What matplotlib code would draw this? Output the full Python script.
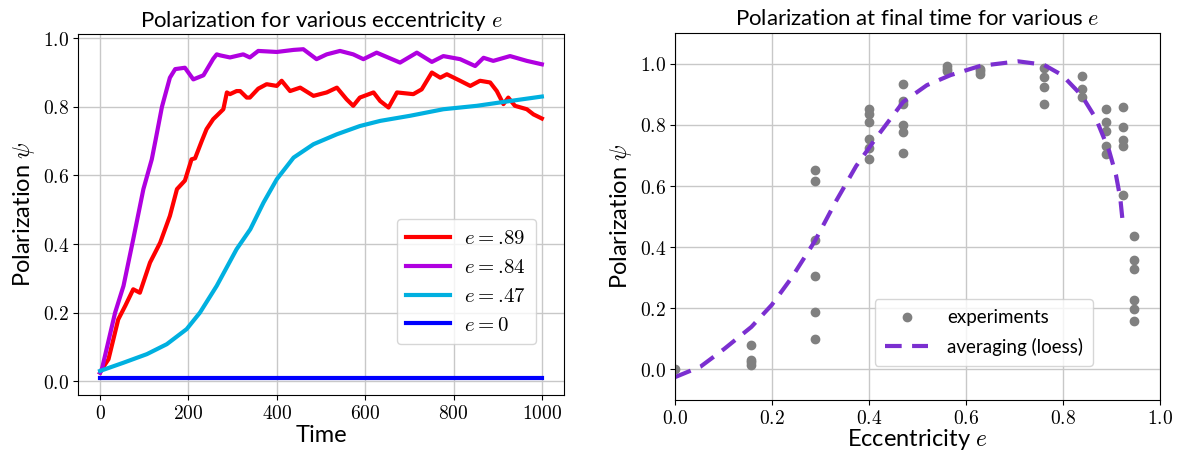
import matplotlib
matplotlib.use("Agg")
import matplotlib.pyplot as plt
from matplotlib.ticker import FuncFormatter

plt.rcParams['font.family'] = ['Lato', 'DejaVu Sans']
plt.rcParams['mathtext.fontset'] = 'cm'

# left panel: polarization vs time
t_red = [0, 4, 19, 41, 57, 75, 90, 113, 136, 158, 174, 192, 207, 215, 230, 241, 256, 264, 279,
         287, 294, 309, 317, 332, 339, 358, 377, 400, 411, 430, 453, 483, 513, 536, 558, 573,
         588, 619, 634, 653, 672, 709, 728, 751, 770, 785, 815, 838, 860, 883, 898, 913, 924,
         939, 966, 981, 1000]
psi_red = [0.025, 0.035, 0.064, 0.18, 0.22, 0.268, 0.258, 0.346, 0.404, 0.482, 0.56, 0.585, 0.647,
           0.65, 0.70, 0.735, 0.764, 0.774, 0.793, 0.842, 0.837, 0.846, 0.846, 0.827, 0.827, 0.853,
           0.866, 0.861, 0.876, 0.846, 0.856, 0.832, 0.842, 0.856, 0.822, 0.803, 0.827, 0.842,
           0.817, 0.798, 0.842, 0.837, 0.851, 0.90, 0.885, 0.895, 0.876, 0.861, 0.876, 0.871,
           0.846, 0.808, 0.827, 0.803, 0.793, 0.778, 0.766]

t_purple = [0, 4, 34, 53, 75, 98, 117, 126, 140, 158, 170, 192, 211, 234, 256, 264, 272, 294, 324,
            339, 358, 400, 438, 460, 490, 513, 543, 573, 596, 626, 679, 717, 751, 777, 815, 849,
            868, 890, 928, 966, 1000]
psi_purple = [0.025, 0.035, 0.20, 0.278, 0.414, 0.56, 0.647, 0.706, 0.80, 0.885, 0.91, 0.914, 0.88,
              0.892, 0.94, 0.953, 0.95, 0.944, 0.953, 0.944, 0.963, 0.96, 0.966, 0.968, 0.939,
              0.953, 0.963, 0.953, 0.939, 0.958, 0.929, 0.958, 0.931, 0.948, 0.939, 0.919, 0.943,
              0.934, 0.948, 0.934, 0.924]

t_cyan = [0, 53, 106, 151, 196, 226, 264, 309, 340, 370, 400, 438, 483, 536, 588, 634, 702,
          777, 853, 928, 1000]
psi_cyan = [0.03, 0.054, 0.079, 0.108, 0.152, 0.20, 0.278, 0.385, 0.443, 0.521, 0.589, 0.652,
            0.691, 0.72, 0.744, 0.759, 0.774, 0.793, 0.803, 0.817, 0.83]

t_blue = [0, 1000]
psi_blue = [0.008, 0.008]

# right panel: final polarization vs eccentricity
ecc_exp = [0.0,
           0.157, 0.157, 0.157, 0.157,
           0.288, 0.288, 0.288, 0.288, 0.288, 0.288,
           0.399, 0.399, 0.399, 0.399, 0.399, 0.399,
           0.47, 0.47, 0.47, 0.47, 0.47, 0.47,
           0.56, 0.56, 0.56,
           0.629, 0.629, 0.629,
           0.76, 0.76, 0.76, 0.76,
           0.838, 0.838, 0.838,
           0.889, 0.889, 0.889, 0.889, 0.889,
           0.923, 0.923, 0.923, 0.923, 0.923,
           0.946, 0.946, 0.946, 0.946, 0.946, 0.946]
psi_exp = [0.0,
           0.081, 0.031, 0.023, 0.015,
           0.654, 0.615, 0.425, 0.305, 0.189, 0.10,
           0.853, 0.836, 0.809, 0.753, 0.723, 0.687,
           0.933, 0.877, 0.867, 0.80, 0.778, 0.709,
           0.993, 0.982, 0.975,
           0.982, 0.975, 0.966,
           0.986, 0.956, 0.925, 0.867,
           0.96, 0.919, 0.892,
           0.853, 0.809, 0.779, 0.731, 0.704,
           0.858, 0.794, 0.751, 0.731, 0.571,
           0.435, 0.357, 0.33, 0.226, 0.197, 0.158]

ecc_fit = [0.0, 0.052, 0.101, 0.157, 0.199, 0.24, 0.288, 0.331, 0.373, 0.415, 0.47, 0.519,
           0.568, 0.629, 0.707, 0.76, 0.798, 0.838, 0.868, 0.895, 0.909, 0.918, 0.923]
psi_fit = [-0.025, 0.009, 0.067, 0.139, 0.211, 0.30, 0.42, 0.549, 0.665, 0.759, 0.875, 0.93,
           0.963, 0.993, 1.008, 0.997, 0.963, 0.897, 0.82, 0.715, 0.637, 0.56, 0.482]

fig = plt.figure(figsize=(11.91, 4.55), dpi=100)
ax1 = fig.add_axes([0.0655, 0.132, 0.408, 0.793])
ax2 = fig.add_axes([0.567, 0.121, 0.407, 0.806])

one_dec = FuncFormatter(lambda v, p: '$%.1f$' % v)

lw = 3
ax1.plot(t_red, psi_red, color='#ff0000', lw=lw, label='$e = .\\!89$')
ax1.plot(t_purple, psi_purple, color='#b000e0', lw=lw, label='$e = .\\!84$')
ax1.plot(t_cyan, psi_cyan, color='#00b0e0', lw=lw, label='$e = .\\!47$')
ax1.plot(t_blue, psi_blue, color='#0000ff', lw=lw, label='$e = 0$')
ax1.set_xlim(-50, 1050)
ax1.set_ylim(-0.04, 1.012)
ax1.set_xticks([0, 200, 400, 600, 800, 1000])
ax1.set_yticks([0.0, 0.2, 0.4, 0.6, 0.8, 1.0])
ax1.xaxis.set_major_formatter(FuncFormatter(lambda v, p: '$%d$' % v))
ax1.yaxis.set_major_formatter(one_dec)
ax1.grid(True, color='#c8c8c8', lw=1)
ax1.set_axisbelow(True)
ax1.set_title('Polarization for various eccentricity $e$', fontsize=16, pad=5)
ax1.set_xlabel('Time', fontsize=17, labelpad=2)
ax1.set_ylabel('Polarization $\\psi$', fontsize=17)
ax1.legend(loc='lower right', bbox_to_anchor=(0.942, 0.141), borderaxespad=0, fontsize=15,
           handlelength=2.1, borderpad=0.45, labelspacing=0.42, handletextpad=0.7)

ax2.plot(ecc_exp, psi_exp, 'o', color='#808080', ms=6, label='experiments')
ax2.plot(ecc_fit, psi_fit, '--', color='#7b2fd0', lw=3, dashes=(4, 2.5), label='averaging (loess)')
ax2.set_xlim(0, 1)
ax2.set_ylim(-0.1, 1.1)
ax2.set_xticks([0.0, 0.2, 0.4, 0.6, 0.8, 1.0])
ax2.set_yticks([0.0, 0.2, 0.4, 0.6, 0.8, 1.0])
ax2.xaxis.set_major_formatter(one_dec)
ax2.yaxis.set_major_formatter(one_dec)
ax2.grid(True, color='#c8c8c8', lw=1)
ax2.set_axisbelow(True)
ax2.set_title('Polarization at final time for various $e$', fontsize=16, pad=6)
ax2.set_xlabel('Eccentricity $e$', fontsize=17, labelpad=0)
ax2.set_ylabel('Polarization $\\psi$', fontsize=17)
ax2.legend(loc='lower right', bbox_to_anchor=(0.862, 0.093), borderaxespad=0, fontsize=13.5,
           handlelength=2.3, borderpad=0.55, labelspacing=0.6, handletextpad=1.0)

for ax in (ax1, ax2):
    ax.tick_params(labelsize=14, pad=3)

fig.savefig('out.png', dpi=100)
